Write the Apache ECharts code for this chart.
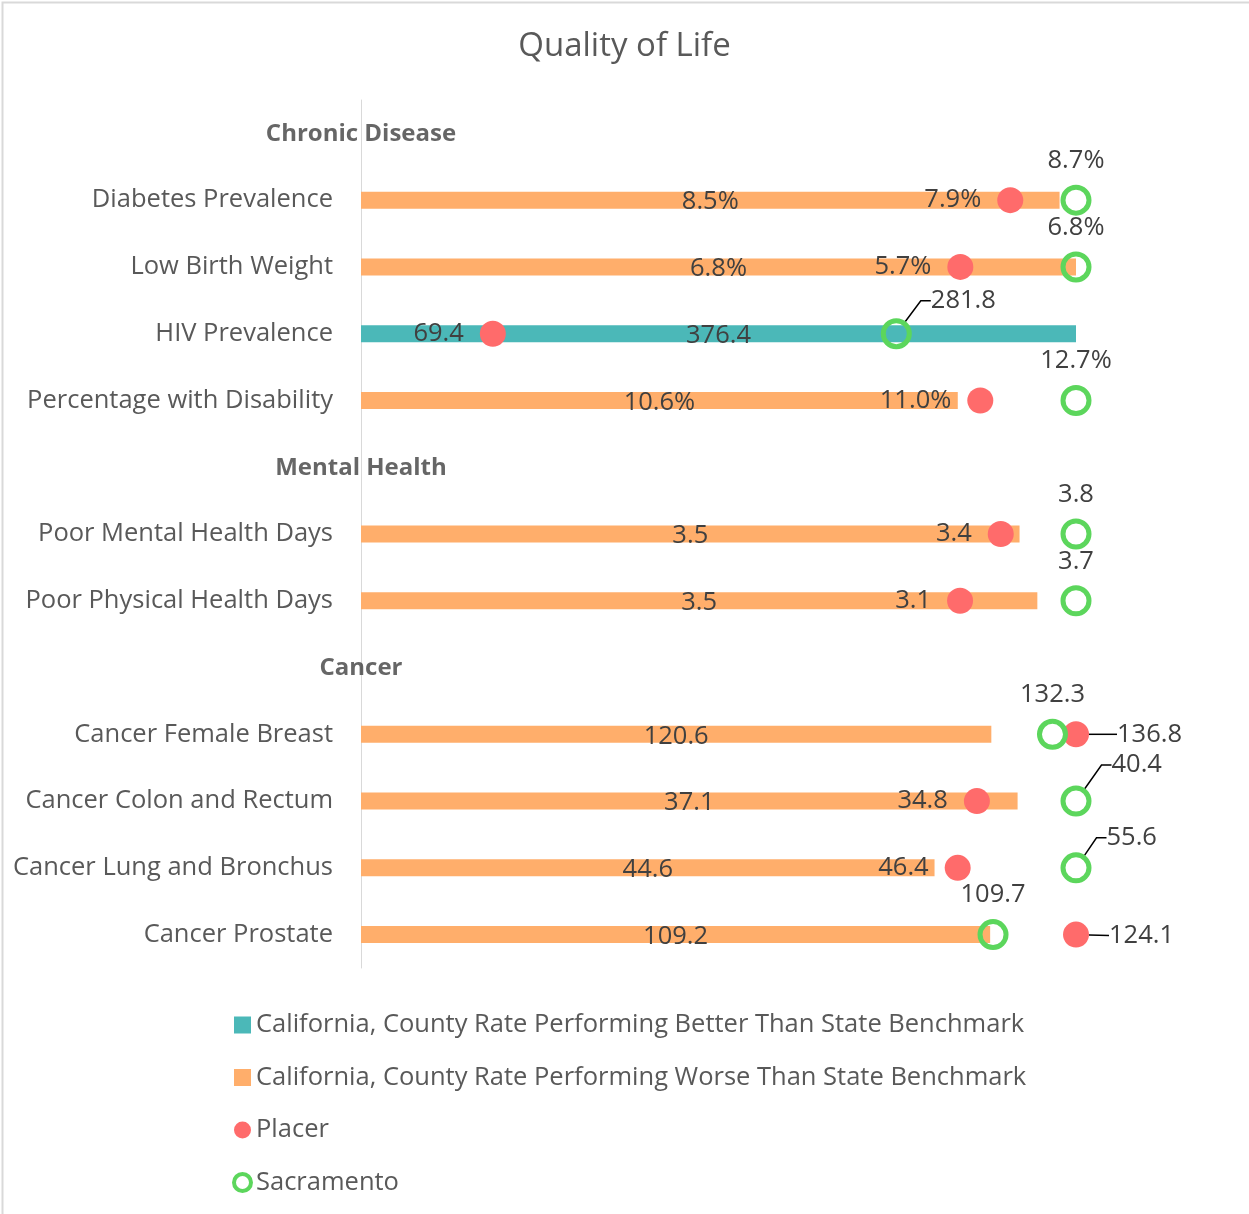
<!DOCTYPE html>
<html>
<head>
<meta charset="utf-8">
<script src="https://cdn.jsdelivr.net/npm/echarts@6/dist/echarts.min.js"></script>
<style>
  html, body { margin: 0; padding: 0; background: #fff; }
  #main { width: 1249px; height: 1214px; }
</style>
</head>
<body>
<div id="main"></div>
<script>
// rows, top to bottom; header rows have no values
var categories = ['Chronic Disease', 'Diabetes Prevalence', 'Low Birth Weight', 'HIV Prevalence',
  'Percentage with Disability', 'Mental Health', 'Poor Mental Health Days', 'Poor Physical Health Days',
  'Cancer', 'Cancer Female Breast', 'Cancer Colon and Rectum', 'Cancer Lung and Bronchus', 'Cancer Prostate'];
var headerRows = ['Chronic Disease', 'Mental Health', 'Cancer'];
var units = ['', '%', '%', '', '%', '', '', '', '', '', '', '', ''];
var stateRate = [null, 8.5, 6.8, 376.4, 10.6, null, 3.5, 3.5, null, 120.6, 37.1, 44.6, 109.2];
var placer = [null, 7.9, 5.7, 69.4, 11.0, null, 3.4, 3.1, null, 136.8, 34.8, 46.4, 124.1];
var sacramento = [null, 8.7, 6.8, 281.8, 12.7, null, 3.8, 3.7, null, 132.3, 40.4, 55.6, 109.7];
// rows where the county does better than the state benchmark
var betterRows = ['HIV Prevalence'];

var textColor = '#404040';
var fontFamily = 'Open Sans';
var fs = 25.5;

// each row is drawn relative to its own largest value
function rowMax(i) {
  return Math.max(stateRate[i], placer[i], sacramento[i]);
}
function fmt(i, v) {
  return v.toFixed(1) + units[i];
}

// label callouts (offset from the mark's right edge / middle, px)
var placerCallout = { 'Cancer Female Breast': [28, 0], 'Cancer Prostate': [20, 1] };
var sacCallout = {
  'HIV Prevalence': [19, -33], 'Cancer Colon and Rectum': [20, -36], 'Cancer Lung and Bronchus': [15, -30]
};

var betterData = [], worseData = [], placerData = [], sacData = [], headerData = [];
for (var i = 0; i < categories.length; i++) {
  if (headerRows.indexOf(categories[i]) >= 0) {
    betterData.push('-'); worseData.push('-'); placerData.push('-'); sacData.push('-');
    headerData.push({ value: [0, i], name: categories[i] });
    continue;
  }
  var m = rowMax(i);
  var b = { value: stateRate[i] / m, raw: stateRate[i], row: i };
  if (betterRows.indexOf(categories[i]) >= 0) { betterData.push(b); worseData.push('-'); }
  else { worseData.push(b); betterData.push('-'); }
  var p = { value: [placer[i] / m, i], raw: placer[i], row: i };
  if (placerCallout[categories[i]]) {
    p.label = { position: 'right', offset: [0, 0] };
    p.labelLine = { show: true };
  }
  placerData.push(p);
  var s = { value: [sacramento[i] / m, i], raw: sacramento[i], row: i };
  if (sacCallout[categories[i]]) {
    s.label = { position: 'right' };
    s.labelLine = { show: true };
  }
  sacData.push(s);
}

function calloutLayout(table) {
  return function (p) {
    var off = table[categories[p.dataIndex]];
    if (!off) return {};
    return {
      x: p.rect.x + p.rect.width + off[0],
      y: p.rect.y + p.rect.height / 2 + off[1],
      align: 'left',
      verticalAlign: 'middle'
    };
  };
}

var barLabel = {
  show: true, position: 'inside', offset: [0, 2], color: textColor, fontSize: fs, fontFamily: fontFamily,
  formatter: function (p) { return fmt(p.data.row, p.data.raw); }
};

var myChart = echarts.init(document.getElementById('main'));
var option = {
  backgroundColor: '#fff',
  animation: false,
  title: {
    text: 'Quality of Life', left: 'center', top: 25,
    textStyle: { color: '#595959', fontSize: 33, fontWeight: 'normal', fontFamily: fontFamily }
  },
  graphic: [{
    type: 'rect', left: 0, top: 0, silent: true,
    shape: { width: 1248, height: 1213 },
    style: { fill: 'none', stroke: '#d9d9d9', lineWidth: 2 }
  }],
  legend: {
    orient: 'vertical', left: 227, top: 1007, itemGap: 26.5,
    itemWidth: 17, itemHeight: 17,
    textStyle: { color: '#595959', fontSize: fs, fontFamily: fontFamily },
    data: [
      { name: 'California, County Rate Performing Better Than State Benchmark', icon: 'rect' },
      { name: 'California, County Rate Performing Worse Than State Benchmark', icon: 'rect' },
      { name: 'Placer', icon: 'circle' },
      { name: 'Sacramento', icon: 'circle', itemStyle: { borderWidth: 4 } }
    ]
  },
  grid: { left: 361, right: 173, top: 100, bottom: 246 },
  xAxis: {
    type: 'value', min: 0, max: 1, show: false
  },
  yAxis: {
    type: 'category', inverse: true, data: categories,
    axisLine: { show: true, lineStyle: { color: '#d9d9d9', width: 1 } },
    axisTick: { show: false },
    axisLabel: {
      margin: 28, color: '#595959', fontSize: fs, fontFamily: fontFamily,
      formatter: function (v) { return headerRows.indexOf(v) >= 0 ? '' : v; }
    }
  },
  series: [
    {
      name: 'California, County Rate Performing Better Than State Benchmark',
      type: 'bar', stack: 'bench', barWidth: 17, data: betterData,
      itemStyle: { color: '#4BB8B8' }, label: barLabel
    },
    {
      name: 'California, County Rate Performing Worse Than State Benchmark',
      type: 'bar', stack: 'bench', barWidth: 17, data: worseData,
      itemStyle: { color: '#FFAE6B' }, label: barLabel
    },
    {
      name: 'Placer', type: 'scatter', symbol: 'circle', symbolSize: 26, data: placerData,
      itemStyle: { color: '#FF6B6B', opacity: 1 },
      label: {
        show: true, position: 'left', distance: 16, offset: [0, 2], color: textColor, fontSize: fs,
        fontFamily: fontFamily,
        formatter: function (p) { return fmt(p.data.row, p.data.raw); }
      },
      labelLine: { show: false, length2: 0, lineStyle: { color: '#000', width: 1.5 } },
      labelLayout: calloutLayout(placerCallout)
    },
    {
      name: 'Sacramento', type: 'scatter', symbol: 'circle', symbolSize: 26, data: sacData,
      itemStyle: { color: 'rgba(255,255,255,0)', borderColor: '#5CD65C', borderWidth: 5, opacity: 1 },
      label: {
        show: true, position: 'top', distance: 11, color: textColor, fontSize: fs, fontFamily: fontFamily,
        formatter: function (p) { return fmt(p.data.row, p.data.raw); }
      },
      labelLine: { show: false, length2: 10, lineStyle: { color: '#000', width: 1.5 } },
      labelLayout: calloutLayout(sacCallout)
    },
    {
      name: 'headers', type: 'scatter', symbolSize: 0, data: headerData, silent: true,
      label: {
        show: true, position: 'inside', offset: [0, 1], color: textColor, fontSize: 24, fontWeight: 'bold',
        fontFamily: fontFamily, formatter: '{b}'
      }
    }
  ]
};
myChart.setOption(option);
window.addEventListener('resize', function () { myChart.resize(); });
</script>
</body>
</html>
